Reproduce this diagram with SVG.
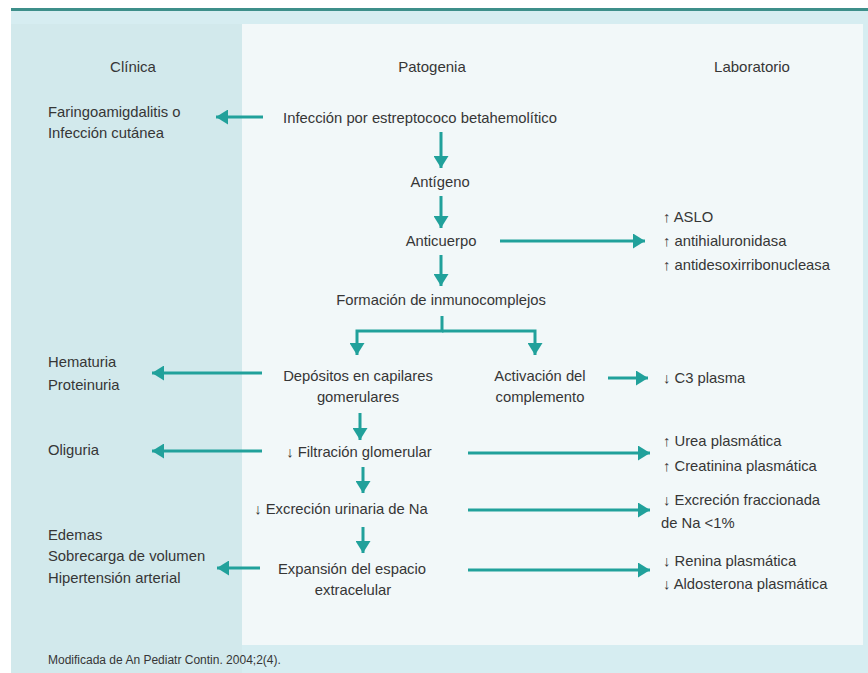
<svg xmlns="http://www.w3.org/2000/svg" width="868" height="673" viewBox="0 0 868 673">
<defs>
<style>
text{font-family:"Liberation Sans",Arial,sans-serif;font-size:14.8px;fill:#363636}
.c{text-anchor:middle}
.h{font-size:15px}
.f{font-size:12px}
.ar{fill:none;stroke:#21a19b;stroke-width:3}
</style>
<marker id="ah" markerUnits="userSpaceOnUse" markerWidth="13" markerHeight="15" refX="12" refY="7.5" orient="auto">
<path d="M0,0 L12,7.5 L0,15 z" fill="#21a19b"/>
</marker>
</defs>
<rect x="0" y="0" width="868" height="673" fill="#ffffff"/>
<rect x="11" y="11" width="857" height="662" fill="#d6edf1"/>
<rect x="11" y="24" width="231" height="649" fill="#d2e9ec"/>
<rect x="242" y="24" width="621" height="621" fill="#f2f8f9"/>
<rect x="11" y="8" width="857" height="3" fill="#3d8f8a"/>

<g id="headers">
<text class="c h" x="133" y="72">Clínica</text>
<text class="c h" x="432" y="72">Patogenia</text>
<text class="c h" x="752" y="72">Laboratorio</text>
</g>

<g id="n-faringo"><text x="48" y="117">Faringoamigdalitis o</text><text x="48" y="138">Infección cutánea</text></g>
<g id="n-infeccion"><text class="c" x="420" y="123">Infección por estreptococo betahemolítico</text></g>
<g id="n-antigeno"><text class="c" x="440" y="187">Antígeno</text></g>
<g id="n-anticuerpo"><text class="c" x="441" y="246">Anticuerpo</text></g>
<g id="n-lab1"><text x="663" y="222">↑ ASLO</text><text x="663" y="246">↑ antihialuronidasa</text><text x="663" y="270">↑ antidesoxirribonucleasa</text></g>
<g id="n-formacion"><text class="c" x="441" y="305">Formación de inmunocomplejos</text></g>
<g id="n-hematuria"><text x="48" y="367">Hematuria</text><text x="48" y="390">Proteinuria</text></g>
<g id="n-depositos"><text class="c" x="358" y="381">Depósitos en capilares</text><text class="c" x="358" y="402">gomerulares</text></g>
<g id="n-activacion"><text class="c" x="540" y="381">Activación del</text><text class="c" x="540" y="402">complemento</text></g>
<g id="n-c3"><text x="663" y="383">↓ C3 plasma</text></g>
<g id="n-oliguria"><text x="48" y="455">Oliguria</text></g>
<g id="n-filtracion"><text class="c" x="359" y="457">↓ Filtración glomerular</text></g>
<g id="n-lab2"><text x="663" y="446">↑ Urea plasmática</text><text x="663" y="471">↑ Creatinina plasmática</text></g>
<g id="n-excrecion"><text class="c" x="341" y="514">↓ Excreción urinaria de Na</text></g>
<g id="n-lab3"><text x="663" y="505">↓ Excreción fraccionada</text><text x="661" y="528">de Na &lt;1%</text></g>
<g id="n-edemas"><text x="48" y="540">Edemas</text><text x="48" y="561">Sobrecarga de volumen</text><text x="48" y="583">Hipertensión arterial</text></g>
<g id="n-expansion"><text class="c" x="352" y="574">Expansión del espacio</text><text class="c" x="353" y="595">extracelular</text></g>
<g id="n-lab4"><text x="663" y="566">↓ Renina plasmática</text><text x="663" y="589">↓ Aldosterona plasmática</text></g>

<g id="connectors">
<line class="ar" x1="263" y1="117" x2="216" y2="117" marker-end="url(#ah)"/>
<line class="ar" x1="441" y1="132" x2="441" y2="168" marker-end="url(#ah)"/>
<line class="ar" x1="441" y1="196" x2="441" y2="228" marker-end="url(#ah)"/>
<line class="ar" x1="500" y1="241" x2="645" y2="241" marker-end="url(#ah)"/>
<line class="ar" x1="441" y1="255" x2="441" y2="286" marker-end="url(#ah)"/>
<path class="ar" d="M442,316 V331 H357 V355" marker-end="url(#ah)"/>
<path class="ar" d="M442,331 H535 V355" marker-end="url(#ah)"/>
<line class="ar" x1="262" y1="373" x2="152" y2="373" marker-end="url(#ah)"/>
<line class="ar" x1="608" y1="378" x2="648" y2="378" marker-end="url(#ah)"/>
<line class="ar" x1="360" y1="413" x2="360" y2="440" marker-end="url(#ah)"/>
<line class="ar" x1="262" y1="451" x2="152" y2="451" marker-end="url(#ah)"/>
<line class="ar" x1="468" y1="453" x2="650" y2="453" marker-end="url(#ah)"/>
<line class="ar" x1="363" y1="467" x2="363" y2="493" marker-end="url(#ah)"/>
<line class="ar" x1="468" y1="510" x2="650" y2="510" marker-end="url(#ah)"/>
<line class="ar" x1="363" y1="527" x2="363" y2="553" marker-end="url(#ah)"/>
<line class="ar" x1="260" y1="568" x2="217" y2="568" marker-end="url(#ah)"/>
<line class="ar" x1="468" y1="570" x2="650" y2="570" marker-end="url(#ah)"/>
</g>

<g id="footer"><text class="f" x="48" y="664">Modificada de An Pediatr Contin. 2004;2(4).</text></g>
</svg>
